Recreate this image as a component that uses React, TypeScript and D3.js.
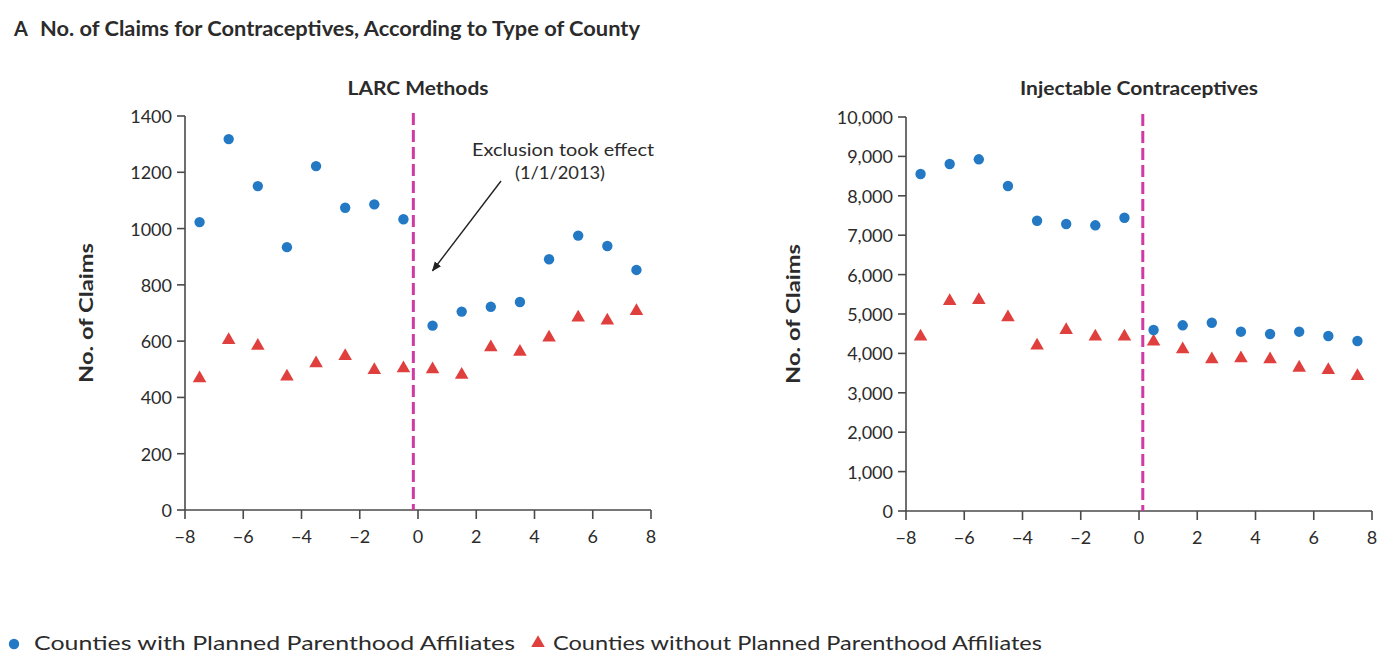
import React from 'react';
import * as d3 from 'd3';

const months = [-7.5, -6.5, -5.5, -4.5, -3.5, -2.5, -1.5, -0.5, 0.5, 1.5, 2.5, 3.5, 4.5, 5.5, 6.5, 7.5];
const larcWithPP = [1023, 1318, 1151, 934, 1222, 1074, 1086, 1033, 655, 705, 722, 739, 891, 975, 938, 853];
const larcWithoutPP = [468, 604, 583, 474, 521, 547, 497, 503, 500, 480, 578, 562, 613, 684, 673, 707];
const injWithPP = [8553, 8807, 8926, 8249, 7368, 7284, 7251, 7444, 4594, 4713, 4779, 4551, 4492, 4551, 4442, 4315];
const injWithoutPP = [4424, 5330, 5355, 4916, 4196, 4594, 4424, 4424, 4297, 4104, 3850, 3876, 3850, 3637, 3579, 3426];
const xTicks = [-8, -6, -4, -2, 0, 2, 4, 6, 8];
const larcYTicks = [0, 200, 400, 600, 800, 1000, 1200, 1400];
const injYTicks = [0, 1000, 2000, 3000, 4000, 5000, 6000, 7000, 8000, 9000, 10000];
const larcPolicyX = -0.16;
const injPolicyX = 0.13;

const BLUE = '#2479c4';
const RED = '#e0403d';
const MAGENTA = '#cf3aa3';
const AXIS = '#4a4a4a';
const TEXT = '#2b2b2b';
const FONT = 'Lato, "Open Sans", sans-serif';

const triPath = d3.symbol().type(d3.symbolTriangle).size(80)() as string;

type PanelProps = {
  title: string;
  titleWidth: number;
  x0: number; x1: number; yTop: number; yBottom: number;
  yMax: number; yTicks: number[]; yFmt: (v: number) => string;
  withPP: number[]; withoutPP: number[]; policyX: number;
  labelX: number;
};

function Panel(p: PanelProps) {
  const x = d3.scaleLinear().domain([-8, 8]).range([p.x0, p.x1]);
  const y = d3.scaleLinear().domain([0, p.yMax]).range([p.yBottom, p.yTop]);
  const xFmt = d3.format('');
  const cx = (p.x0 + p.x1) / 2;
  return (
    <g>
      <text x={cx} y={95} textAnchor="middle" fontFamily={FONT} fontWeight={700} fontSize={19} fill={TEXT}
        textLength={p.titleWidth} lengthAdjust="spacingAndGlyphs">{p.title}</text>
      <text transform={`translate(${p.labelX},${(p.yTop + p.yBottom) / 2}) rotate(-90)`} textAnchor="middle"
        dominantBaseline="middle" fontFamily={FONT} fontWeight={700} fontSize={19} fill={TEXT}
        textLength={140} lengthAdjust="spacingAndGlyphs">No. of Claims</text>
      {/* y axis */}
      <line x1={p.x0} x2={p.x0} y1={y(p.yMax)} y2={p.yBottom} stroke={AXIS} strokeWidth={1.6} />
      {p.yTicks.map(t => (
        <g key={'y' + t}>
          <line x1={p.x0 - 8} x2={p.x0} y1={y(t)} y2={y(t)} stroke={AXIS} strokeWidth={1.6} />
          <text x={p.x0 - 13} y={y(t)} textAnchor="end" dominantBaseline="central" fontFamily={FONT}
            fontSize={18} fill={TEXT}>{p.yFmt(t)}</text>
        </g>
      ))}
      {/* x axis */}
      <line x1={p.x0} x2={p.x1} y1={p.yBottom} y2={p.yBottom} stroke={AXIS} strokeWidth={1.6} />
      {xTicks.map(t => (
        <g key={'x' + t}>
          <line x1={x(t)} x2={x(t)} y1={p.yBottom} y2={p.yBottom + 9} stroke={AXIS} strokeWidth={1.6} />
          <text x={x(t)} y={p.yBottom + 26} textAnchor="middle" dominantBaseline="central" fontFamily={FONT}
            fontSize={18} fill={TEXT}>{xFmt(t)}</text>
        </g>
      ))}
      {/* policy line */}
      <line x1={x(p.policyX)} x2={x(p.policyX)} y1={p.yTop - 3} y2={p.yBottom} stroke={MAGENTA}
        strokeWidth={3} strokeDasharray="12,5" />
      {months.map((m, i) => (
        <path key={'t' + i} d={triPath} transform={`translate(${x(m)},${y(p.withoutPP[i])})`} fill={RED} />
      ))}
      {months.map((m, i) => (
        <circle key={'c' + i} cx={x(m)} cy={y(p.withPP[i])} r={5.2} fill={BLUE} />
      ))}
    </g>
  );
}

export default function App() {
  const larcX = d3.scaleLinear().domain([-8, 8]).range([185, 651]);
  const larcY = d3.scaleLinear().domain([0, 1400]).range([510, 116]);
  return (
    <svg width={1377} height={655} style={{ position: 'absolute', left: 0, top: 0, background: '#fff' }}>
      <rect width={1377} height={655} fill="#fff" />
      <text x={14} y={36} fontFamily={FONT} fontWeight={700} fontSize={20} fill={TEXT}>A</text>
      <text x={40} y={36} fontFamily={FONT} fontWeight={700} fontSize={20} fill={TEXT}
        textLength={600} lengthAdjust="spacingAndGlyphs">No. of Claims for Contraceptives, According to Type of County</text>

      <Panel title="LARC Methods" titleWidth={141} x0={185} x1={651} yTop={116} yBottom={510} yMax={1400}
        yTicks={larcYTicks} yFmt={d3.format('')} withPP={larcWithPP} withoutPP={larcWithoutPP}
        policyX={larcPolicyX} labelX={88} />
      <Panel title="Injectable Contraceptives" titleWidth={238} x0={906} x1={1372} yTop={117} yBottom={511} yMax={10000}
        yTicks={injYTicks} yFmt={d3.format(',')} withPP={injWithPP} withoutPP={injWithoutPP}
        policyX={injPolicyX} labelX={795} />

      {/* annotation */}
      <text x={563} y={156} textAnchor="middle" fontFamily={FONT} fontSize={18} fill={TEXT}
        textLength={182} lengthAdjust="spacingAndGlyphs">Exclusion took effect</text>
      <text x={560} y={179} textAnchor="middle" fontFamily={FONT} fontSize={18} fill={TEXT}
        textLength={90} lengthAdjust="spacingAndGlyphs">(1/1/2013)</text>
      <defs>
        <marker id="arrowhead" viewBox="0 0 10 10" refX={9} refY={5} markerWidth={7} markerHeight={7} orient="auto">
          <path d="M0,1 L10,5 L0,9 z" fill="#222" />
        </marker>
      </defs>
      <line x1={501} y1={181} x2={larcX(0.5)} y2={larcY(850)} stroke="#222" strokeWidth={1.4}
        markerEnd="url(#arrowhead)" />

      {/* legend */}
      <circle cx={14} cy={644} r={5.2} fill={BLUE} />
      <text x={34} y={650} fontFamily={FONT} fontSize={20} fill={TEXT}
        textLength={481} lengthAdjust="spacingAndGlyphs">Counties with Planned Parenthood Affiliates</text>
      <path d={triPath} transform="translate(538,643)" fill={RED} />
      <text x={553} y={650} fontFamily={FONT} fontSize={20} fill={TEXT}
        textLength={489} lengthAdjust="spacingAndGlyphs">Counties without Planned Parenthood Affiliates</text>
    </svg>
  );
}
